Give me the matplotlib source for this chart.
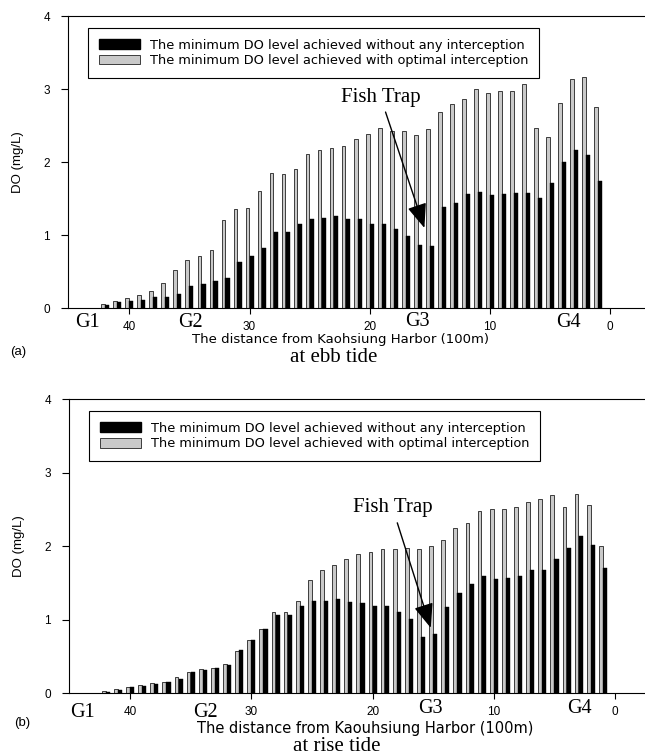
import matplotlib
matplotlib.use("Agg")
import matplotlib.pyplot as plt
from matplotlib.patches import Patch

# distance from the harbor (100 m), left to right on the plot
dist = list(range(42, 0, -1))

ebb_without = [0.045, 0.08, 0.10, 0.12, 0.15, 0.16, 0.19, 0.30, 0.33, 0.37,
               0.42, 0.63, 0.71, 0.82, 1.04, 1.05, 1.16, 1.22, 1.24, 1.26,
               1.22, 1.22, 1.16, 1.15, 1.08, 0.99, 0.87, 0.85, 1.39, 1.44,
               1.56, 1.59, 1.55, 1.57, 1.58, 1.58, 1.51, 1.71, 2.00, 2.17, 2.10, 1.74]
ebb_with = [0.06, 0.10, 0.14, 0.18, 0.23, 0.34, 0.52, 0.66, 0.71, 0.80,
            1.21, 1.36, 1.37, 1.60, 1.85, 1.84, 1.91, 2.11, 2.16, 2.19,
            2.22, 2.32, 2.39, 2.47, 2.43, 2.42, 2.37, 2.45, 2.69, 2.80,
            2.86, 3.00, 2.95, 2.98, 2.98, 3.07, 2.47, 2.35, 2.81, 3.14, 3.17, 2.76]

rise_without = [0.02, 0.05, 0.08, 0.10, 0.13, 0.15, 0.20, 0.29, 0.32, 0.34,
                0.38, 0.59, 0.72, 0.87, 1.07, 1.07, 1.19, 1.25, 1.25, 1.28,
                1.24, 1.23, 1.19, 1.19, 1.11, 1.01, 0.76, 0.80, 1.18, 1.37,
                1.49, 1.59, 1.56, 1.57, 1.59, 1.68, 1.67, 1.82, 1.98, 2.14, 2.02, 1.70]
rise_with = [0.03, 0.06, 0.09, 0.11, 0.14, 0.16, 0.22, 0.29, 0.33, 0.35,
             0.40, 0.57, 0.73, 0.88, 1.10, 1.11, 1.26, 1.54, 1.68, 1.75,
             1.83, 1.90, 1.92, 1.96, 1.96, 1.97, 1.96, 2.00, 2.08, 2.25,
             2.32, 2.48, 2.50, 2.50, 2.53, 2.60, 2.64, 2.69, 2.53, 2.71, 2.56, 2.00]

x_ticks = [40, 30, 20, 10, 0]
y_ticks = [0, 1, 2, 3, 4]
gauge_names = ["G1", "G2", "G3", "G4"]

legend_labels = ["The minimum DO level achieved without any interception",
                 "The minimum DO level achieved with optimal interception"]

GRAY = "#c9c9c9"
SANS = ["Liberation Sans", "DejaVu Sans"]
SERIF = ["Liberation Serif", "DejaVu Serif"]
WIDE = ["DejaVu Sans"]


def draw_panel(ax, without, with_opt, xlim, gauge_x, gauge_y, trap_txt, trap_tip):
    xs_w = [d - 0.17 for d in dist]
    xs_g = [d + 0.17 for d in dist]
    ax.bar(xs_g, with_opt, width=0.31, color=GRAY, edgecolor="#222222", linewidth=0.6)
    ax.bar(xs_w, without, width=0.34, color="black", edgecolor="black", linewidth=0.3)

    ax.set_xlim(*xlim)
    ax.set_ylim(0, 4)
    ax.set_xticks(x_ticks)
    ax.set_yticks(y_ticks)
    ax.set_xticklabels([str(t) for t in x_ticks], family=SANS, fontsize=8.5)
    ax.set_yticklabels([str(t) for t in y_ticks], family=SANS, fontsize=8.5)
    ax.tick_params(axis="x", direction="out", length=4, width=0.8, pad=5)
    ax.tick_params(axis="y", direction="out", length=5, width=0.8, pad=8)
    ax.spines["right"].set_visible(False)
    for s in ("left", "top", "bottom"):
        ax.spines[s].set_linewidth(0.8)
    ax.set_ylabel("DO (mg/L)", family=SANS, fontsize=9.5, labelpad=14)

    for name, gx, gy in zip(gauge_names, gauge_x, gauge_y):
        ax.text(gx, gy, name, transform=ax.get_xaxis_transform(), ha="center",
                va="center", family=SERIF, fontsize=14.5)

    ax.annotate("Fish Trap", xy=trap_tip, xytext=trap_txt, ha="center", va="center",
                family=SERIF, fontsize=15,
                arrowprops=dict(arrowstyle="-|>,head_length=1.0,head_width=0.4",
                                color="black", lw=1.0, shrinkA=2, shrinkB=0))

    handles = [Patch(facecolor="black", edgecolor="black"),
               Patch(facecolor=GRAY, edgecolor="#222222", linewidth=0.6)]
    leg = ax.legend(handles, legend_labels, loc="upper left",
                    bbox_to_anchor=(0.035, 0.958), borderaxespad=0,
                    fancybox=False, framealpha=1, edgecolor="black",
                    prop={"family": WIDE, "size": 9.3},
                    handlelength=3.2, handleheight=0.75, handletextpad=0.8,
                    labelspacing=0.2, borderpad=0.8)
    leg.get_frame().set_linewidth(0.8)


fig = plt.figure(figsize=(6.45, 7.56), dpi=100)

ax1 = fig.add_axes([0.1054, 0.5922, 0.8946, 0.3866])
draw_panel(ax1, ebb_without, ebb_with, (45.1, -2.9),
           [43.5, 34.9, 16.0, 3.5], [-0.048, -0.048, -0.046, -0.048],
           (19.1, 2.89), (15.45, 1.10))

ax2 = fig.add_axes([0.107, 0.0829, 0.893, 0.3893])
draw_panel(ax2, rise_without, rise_with, (45.03, -2.47),
           [43.9, 33.8, 15.2, 2.9], [-0.064, -0.064, -0.05, -0.05],
           (18.35, 2.52), (15.2, 0.89))

# axis titles under each panel (placed by pixel position of the reference)
W, H = 645.0, 756.0
fig.text(341 / W, 1 - 340 / H, "The distance from Kaohsiung Harbor (100m)",
         ha="center", va="center", family=WIDE, fontsize=9.5)
fig.text(334 / W, 1 - 358 / H, "at ebb tide", ha="center", va="center",
         family=SERIF, fontsize=15)
fig.text(18 / W, 1 - 352 / H, "(a)", ha="center", va="center", family=SANS, fontsize=9.5)

fig.text(365 / W, 1 - 729 / H, "The distance from Kaouhsiung Harbor (100m)",
         ha="center", va="center", family=WIDE, fontsize=10.5)
fig.text(337 / W, 1 - 746.5 / H, "at rise tide", ha="center", va="center",
         family=SERIF, fontsize=15)
fig.text(22 / W, 1 - 723 / H, "(b)", ha="center", va="center", family=SANS, fontsize=9.5)

fig.savefig("out.png", dpi=100)
